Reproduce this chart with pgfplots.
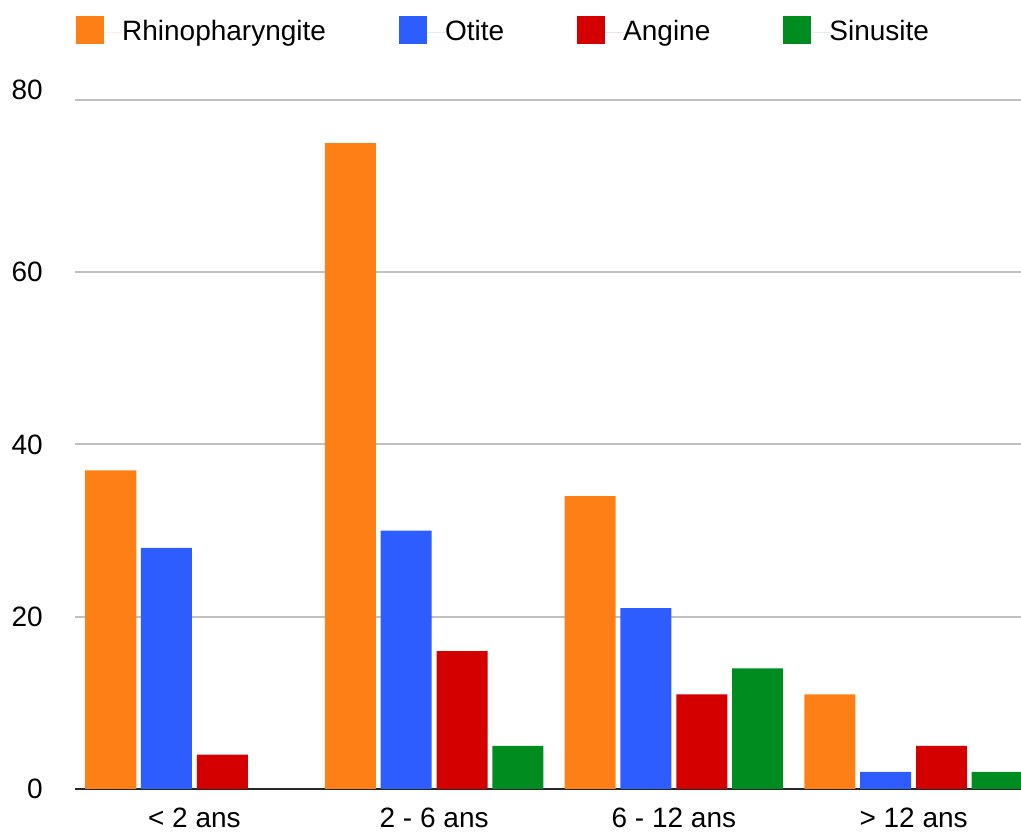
\documentclass[border=0pt]{standalone}
\usepackage{pgfplots}
\pgfplotsset{compat=1.18}
\usepackage{fontspec}
\setmainfont{Liberation Sans}
\definecolor{corange}{RGB}{255,127,23}
\definecolor{cblue}{RGB}{45,92,255}
\definecolor{cred}{RGB}{212,0,0}
\definecolor{cgreen}{RGB}{0,140,30}
\definecolor{cgrid}{RGB}{192,192,192}
\begin{document}
\begin{tikzpicture}
\fontsize{28pt}{32pt}\selectfont
\begin{axis}[
  scale only axis,
  width=946pt, height=689pt,
  xmin=-0.498, xmax=3.448,
  ymin=0, ymax=80,
  axis x line*=bottom,
  axis y line*=left,
  y axis line style={draw=none},
  x axis line style={draw=black!85, line width=2pt},
  xtick={0,1,2,3},
  xticklabels={{< 2 ans},{2 - 6 ans},{6 - 12 ans},{> 12 ans}},
  ytick={0,20,40,60},
  extra y ticks={80},
  extra y tick style={yticklabel style={yshift=10pt}, grid=major},
  major tick length=0pt,
  ymajorgrids,
  grid style={draw=cgrid, line width=2pt},
  /pgf/number format/assume math mode=true,
  tick label style={font=\fontsize{28pt}{32pt}\selectfont},
  yticklabel style={anchor=east, inner sep=0pt, xshift=-32pt},
  xticklabel style={anchor=base, inner sep=0pt, yshift=-39pt},
  bar width=0.213,
  legend columns=-1,
  legend style={at={(0.001,1.122)}, anchor=north west, draw=none,
    inner sep=0pt, font=\fontsize{28pt}{32pt}\selectfont,
    nodes={inner sep=0pt},
    /tikz/every even column/.append style={column sep=73pt}},
  legend image code/.code={\fill[#1] (0pt,-12pt) rectangle (28pt,16pt); \path (0pt,0pt) -- (46pt,0pt);},
]
\addplot[ybar, bar shift=-0.349, fill=corange, draw=none] coordinates {(0,37) (1,75) (2,34) (3,11)};
\addplot[ybar, bar shift=-0.117, fill=cblue, draw=none] coordinates {(0,28) (1,30) (2,21) (3,2)};
\addplot[ybar, bar shift=0.117, fill=cred, draw=none] coordinates {(0,4) (1,16) (2,11) (3,5)};
\addplot[ybar, bar shift=0.349, fill=cgreen, draw=none] coordinates {(1,5) (2,14) (3,2)};
\legend{Rhinopharyngite, Otite, Angine, Sinusite}
\end{axis}
\pgfresetboundingbox
\path ([shift={(-75pt,-44pt)}]current axis.south west) rectangle ([shift={(0pt,100pt)}]current axis.north east);
\end{tikzpicture}
\end{document}
